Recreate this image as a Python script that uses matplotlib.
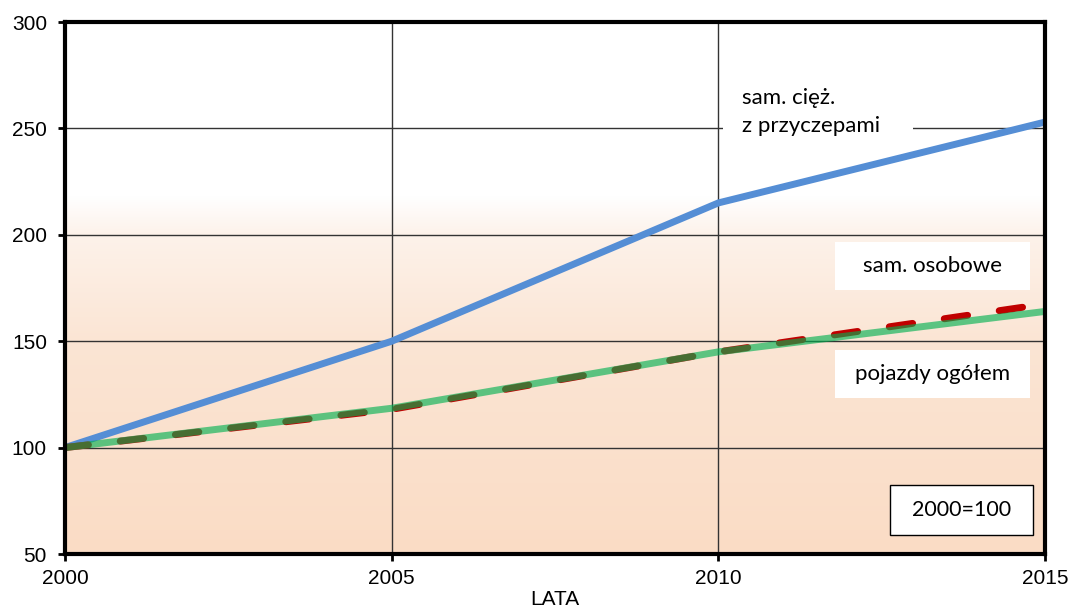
import numpy as np
import matplotlib
matplotlib.use("Agg")
import matplotlib.pyplot as plt
from matplotlib.patches import Rectangle

# Index of vehicle numbers, 2000 = 100
years = [2000, 2005, 2010, 2015]
trucks = [100, 150, 215, 253]          # sam. ciężarowe z przyczepami
cars = [100, 118, 145, 167.5]          # sam. osobowe
all_vehicles = [100, 118.5, 145, 164]  # pojazdy ogółem

y_ticks = [50, 100, 150, 200, 250, 300]
x_ticks = [2000, 2005, 2010, 2015]

plt.rcParams['font.family'] = ['Liberation Sans', 'DejaVu Sans']

fig = plt.figure(figsize=(10.71, 6.10), dpi=100)
ax = fig.add_axes([0.0607, 0.0918, 0.915, 0.872])

ax.set_xlim(2000, 2015)
ax.set_ylim(50, 300)

# background: white on top fading into peach towards the bottom
vals = np.linspace(300, 50, 600)
stops_v = [50, 150, 200, 218, 300]
stops_c = np.array([[250, 220, 197],
                    [251, 229, 212],
                    [253, 242, 234],
                    [255, 255, 255],
                    [255, 255, 255]]) / 255.0
grad = np.stack([np.interp(vals, stops_v, stops_c[:, k]) for k in range(3)],
                axis=1)
ax.imshow(grad[:, None, :], extent=[2000, 2015, 50, 300], aspect='auto',
          zorder=0, interpolation='bilinear')

# grid
for v in [100, 150, 200, 250]:
    ax.axhline(v, color='#333333', lw=1.0, zorder=1)
for v in [2005, 2010]:
    ax.axvline(v, color='#333333', lw=1.0, zorder=1)

# label boxes (white, hide the grid behind the text)
ax.add_patch(Rectangle((2010.07, 243), 2.91, 30, fc='white', ec='none',
                       zorder=2))
ax.add_patch(Rectangle((2011.79, 174.0), 2.985, 22.6, fc='white', ec='none',
                       zorder=2))
ax.add_patch(Rectangle((2011.79, 123.3), 2.985, 22.6, fc='white', ec='none',
                       zorder=2))
ax.add_patch(Rectangle((2012.63, 59.0), 2.19, 23.5, fc='white', ec='black',
                       lw=1.0, zorder=6))

# series
ax.plot(years, trucks, color='#558ED5', lw=5, solid_capstyle='butt', zorder=3)
ax.plot(years, cars, color='#C00000', lw=5, dashes=(3.4, 4.6),
        dash_capstyle='round', zorder=4)
ax.plot(years, all_vehicles, color='#00B050', alpha=0.63, lw=5,
        solid_capstyle='butt', zorder=5)

# axes frame
for s in ax.spines.values():
    s.set_linewidth(3)
    s.set_color('black')
    s.set_zorder(10)

ax.set_xticks(x_ticks)
ax.set_yticks(y_ticks)
ax.tick_params(axis='both', labelsize=15, length=5, width=2, direction='out')
ax.tick_params(axis='y', pad=8)
ax.tick_params(axis='x', pad=6)
ax.set_xlabel('LATA', fontsize=15, labelpad=1)

lab_font = ['Lato', 'DejaVu Sans']
ax.text(2010.36, 257.7, 'sam. cięż.\nz przyczepami', fontsize=16,
        family=lab_font, ha='left', va='center', linespacing=1.45, zorder=7)
ax.text(2013.28, 185.3, 'sam. osobowe', fontsize=16, family=lab_font,
        ha='center', va='center', zorder=7)
ax.text(2013.28, 134.6, 'pojazdy ogółem', fontsize=16, family=lab_font,
        ha='center', va='center', zorder=7)
ax.text(2013.725, 70.7, '2000=100', fontsize=15.5, family=lab_font,
        ha='center', va='center', zorder=7)

fig.savefig('out.png', dpi=100)
